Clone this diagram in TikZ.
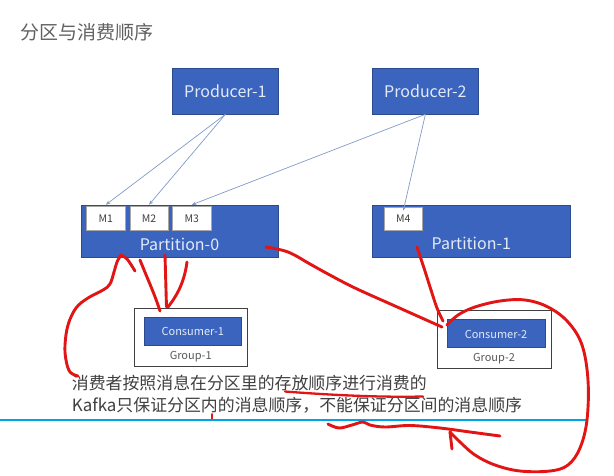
\documentclass[tikz,border=0pt]{standalone}
\usepackage{fontspec}
\setmainfont{Noto Sans CJK SC}
\usetikzlibrary{arrows.meta}
\definecolor{boxblue}{RGB}{58,100,190}
\definecolor{boxedge}{RGB}{45,75,140}
\definecolor{lighttext}{RGB}{228,234,246}
\definecolor{arrowcol}{RGB}{130,155,200}
\definecolor{pen}{RGB}{226,20,20}
\definecolor{cyanline}{RGB}{0,162,232}
\definecolor{bodytext}{RGB}{64,64,64}
\tikzset{
  bluebox/.style={draw=boxedge, line width=0.6pt, fill=boxblue, inner sep=0pt},
  msgbox/.style={draw=gray!70, line width=0.6pt, fill=white, inner sep=0pt,
    minimum width=38.3pt, minimum height=23.5pt, text=bodytext,
    font=\fontsize{10.5}{12}\selectfont},
  grpbox/.style={draw=black!75, line width=0.8pt, fill=white, inner sep=0pt},
  bigtext/.style={text=lighttext, inner sep=0pt, font=\fontsize{16}{19}\selectfont},
  smalltext/.style={text=lighttext, inner sep=0pt, font=\fontsize{11}{13}\selectfont},
  grptext/.style={text=black!65, inner sep=0pt, font=\fontsize{11}{13}\selectfont},
  bodyline/.style={text=bodytext, inner sep=0pt, anchor=west, font=\fontsize{16.9}{19}\selectfont},
  prodarrow/.style={draw=arrowcol, line width=0.7pt, -{Stealth[length=4.5pt,width=3.5pt]}},
  redpen/.style={draw=pen, line width=2.9pt, line cap=round, line join=round}
}
\begin{document}
\begin{tikzpicture}[x=1pt,y=-1pt]
\useasboundingbox (0,0) rectangle (614,475);
\fill[white] (0,0) rectangle (614,475);

% title
\node[anchor=west, inner sep=0pt, text=black!62, font=\fontsize{19}{22}\selectfont] (title) at (20,32.5) {分区与消费顺序};

% producers
\node[bluebox, minimum width=105.3pt, minimum height=46pt] (p1) at (225.4,91) {};
\node[bigtext] (p1t) at (225.4,91.5) {Producer-1};
\node[bluebox, minimum width=105.3pt, minimum height=46pt] (p2) at (425.4,91) {};
\node[bigtext] (p2t) at (425.4,91.5) {Producer-2};

% partitions
\node[bluebox, minimum width=197pt, minimum height=52pt] (part0) at (179.5,231) {};
\node[bigtext] (part0t) at (179.5,244) {Partition-0};
\node[bluebox, minimum width=197.3pt, minimum height=52pt] (part1) at (471.3,231) {};
\node[bigtext] (part1t) at (471.3,243.5) {Partition-1};

% messages
\node[msgbox] (m1) at (105.8,218.3) {M1};
\node[msgbox] (m2) at (149,218.3) {M2};
\node[msgbox] (m3) at (191.8,218.3) {M3};
\node[msgbox] (m4) at (403.3,218.7) {M4};

% producer arrows
\draw[prodarrow] (p1.south) -- ([yshift=1.5pt]m1.north);
\draw[prodarrow] (p1.south) -- ([yshift=1.5pt]m2.north);
\draw[prodarrow] (p2.south) -- ([yshift=1.5pt]m3.north);
\draw[prodarrow] (p2.south) -- ([yshift=-4pt]m4.north);

% consumer groups
\node[grpbox, minimum width=113.7pt, minimum height=58.4pt] (g1) at (190.8,337.5) {};
\node[bluebox, minimum width=97.7pt, minimum height=28.4pt] (c1) at (192.8,331.5) {};
\node[smalltext] (c1t) at (192.8,331.8) {Consumer-1};
\node[grptext] (g1t) at (190.7,356.7) {Group-1};

\node[grpbox, minimum width=113.3pt, minimum height=57.6pt] (g2) at (494.3,339.5) {};
\node[bluebox, minimum width=98pt, minimum height=28.7pt] (c2) at (496,333.3) {};
\node[smalltext] (c2t) at (496,334.3) {Consumer-2};
\node[grptext] (g2t) at (494,359) {Group-2};

% body text
\node[bodyline] (line1) at (71.7,383.3) {消费者按照消息在分区里的存放顺序进行消费的};
\node[bodyline] (line2) at (71.7,405) {Kafka只保证分区内的消息顺序，不能保证分区间的消息顺序};

% cyan rule
\draw[draw=cyanline, line width=2pt] (0,419.5) -- (586,419.5);

% red freehand annotations
\draw[redpen] plot[smooth, tension=0.6] coordinates {(78,376) (70,372) (66,360) (65,345) (68,325) (76,308) (88,298) (103,290) (110,284) (114,272) (117,262) (121,255)};
\draw[redpen] (121,255) .. controls (127,258) .. (135,271);

\draw[redpen] (140,260) .. controls (148,280) and (155,295) .. (160,311);
\draw[redpen] (165,255) -- (166.5,307);
\draw[redpen] (187,262) .. controls (184,285) and (175,298) .. (168,307);

\draw[redpen] plot[smooth, tension=0.6] coordinates {(266,247) (288,252) (310,264) (328,274) (355,288) (395,306) (442,327)};

\draw[redpen] plot[smooth, tension=0.6] coordinates {(417,247) (424,268) (431,290) (437,308) (443,321)};

\draw[redpen] plot[smooth, tension=0.6] coordinates {(447,325) (458,315) (475,307) (500,301) (525,300) (548,307) (568,322) (582,345) (588,380) (587,420) (580,448) (568,465) (550,471) (520,471) (495,465) (475,455) (460,442) (450,432)};
\draw[redpen] (450,432) -- (452,449);

\draw[redpen] plot[smooth, tension=0.6] coordinates {(328,424) (339,428) (352,425) (363,422) (370,425) (385,427) (410,425.5) (440,428) (470,432) (500,436)};

\draw[redpen, line width=2.3pt] (285,391.5) .. controls (330,395) and (380,397.5) .. (423,396.5);
\draw[redpen, line width=2pt] (212,414) -- (212,418.5);
\end{tikzpicture}
\end{document}
